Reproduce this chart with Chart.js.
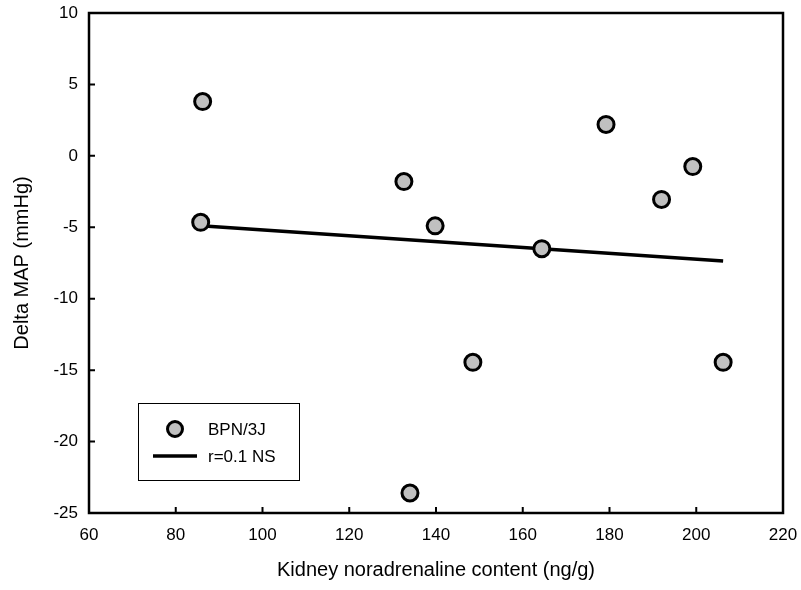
<!DOCTYPE html>
<html>
<head>
<meta charset="utf-8">
<script src="https://cdn.jsdelivr.net/npm/chart.js@4/dist/chart.umd.min.js"></script>
<style>
  body { margin: 0; background: #fff; }
</style>
</head>
<body>
<canvas id="scatterChart" width="801" height="590"></canvas>
<script>
// values
const kidneyNA = [86.2, 85.75, 132.6, 139.8, 134.0, 148.5, 164.4, 179.2, 192.0, 199.2, 206.2];
const deltaMAP = [3.8, -4.65, -1.8, -4.9, -23.6, -14.45, -6.5, 2.2, -3.05, -0.75, -14.45];

// regression line end points
const fitX = [85.75, 206.2];
const fitY = [-4.9, -7.36];

const xTicks = [60, 80, 100, 120, 140, 160, 180, 200, 220];
const yTicks = [-25, -20, -15, -10, -5, 0, 5, 10];

const FONT = '"Liberation Sans", Arial, sans-serif';

// frame, inward ticks and a boxed legend
const framePlugin = {
  id: 'frame',
  afterDraw(chart) {
    const ctx = chart.ctx;
    const area = chart.chartArea;
    const xs = chart.scales.x;
    const ys = chart.scales.y;

    ctx.save();
    ctx.strokeStyle = '#000';
    ctx.lineWidth = 2.5;
    ctx.strokeRect(area.left, area.top, area.right - area.left, area.bottom - area.top);

    ctx.lineWidth = 2;
    ctx.beginPath();
    xTicks.forEach(v => {
      const px = xs.getPixelForValue(v);
      ctx.moveTo(px, area.bottom);
      ctx.lineTo(px, area.bottom - 6);
    });
    yTicks.forEach(v => {
      const py = ys.getPixelForValue(v);
      ctx.moveTo(area.left, py);
      ctx.lineTo(area.left + 6, py);
    });
    ctx.stroke();

    // legend
    const pts = chart.data.datasets[0];
    const fit = chart.data.datasets[1];
    ctx.lineWidth = 1;
    ctx.strokeRect(138.5, 403.5, 161, 77);

    ctx.beginPath();
    ctx.arc(175, 429, 7.5, 0, Math.PI * 2);
    ctx.fillStyle = pts.backgroundColor;
    ctx.fill();
    ctx.lineWidth = 3;
    ctx.strokeStyle = pts.borderColor;
    ctx.stroke();

    ctx.beginPath();
    ctx.moveTo(153, 456);
    ctx.lineTo(197, 456);
    ctx.lineWidth = 3.5;
    ctx.strokeStyle = fit.borderColor;
    ctx.stroke();

    ctx.fillStyle = '#000';
    ctx.font = '17px ' + FONT;
    ctx.textBaseline = 'middle';
    ctx.fillText(pts.label, 208, 430);
    ctx.fillText(fit.label, 208, 457);
    ctx.restore();
  }
};

new Chart(document.getElementById('scatterChart').getContext('2d'), {
  type: 'scatter',
  data: {
    datasets: [
      {
        label: 'BPN/3J',
        data: kidneyNA.map((x, i) => ({ x: x, y: deltaMAP[i] })),
        pointRadius: 8,
        pointBorderWidth: 3,
        backgroundColor: '#c0c0c0',
        borderColor: '#000'
      },
      {
        label: 'r=0.1 NS',
        type: 'line',
        data: fitX.map((x, i) => ({ x: x, y: fitY[i] })),
        borderColor: '#000',
        borderWidth: 3.5,
        pointRadius: 0,
        fill: false
      }
    ]
  },
  options: {
    responsive: false,
    animation: false,
    layout: { padding: { top: 13, right: 18, bottom: 0, left: 0 } },
    plugins: {
      legend: { display: false },
      tooltip: { enabled: false }
    },
    scales: {
      x: {
        type: 'linear',
        min: 60,
        max: 220,
        afterBuildTicks: scale => { scale.ticks = xTicks.map(v => ({ value: v })); },
        afterFit: scale => { scale.height = 77; scale.paddingLeft = 0; scale.paddingRight = 0; },
        grid: { display: false, drawTicks: false },
        border: { display: false },
        ticks: { color: '#000', font: { family: FONT, size: 17 }, padding: 12 },
        title: {
          display: true,
          text: 'Kidney noradrenaline content (ng/g)',
          color: '#000',
          font: { family: FONT, size: 20 },
          padding: { top: 0, bottom: 8 }
        }
      },
      y: {
        type: 'linear',
        min: -25,
        max: 10,
        afterBuildTicks: scale => { scale.ticks = yTicks.map(v => ({ value: v })); },
        afterFit: scale => { scale.width = 89; scale.paddingTop = 0; scale.paddingBottom = 0; },
        grid: { display: false, drawTicks: false },
        border: { display: false },
        ticks: { color: '#000', font: { family: FONT, size: 17 }, padding: 11 },
        title: {
          display: true,
          text: 'Delta MAP (mmHg)',
          color: '#000',
          font: { family: FONT, size: 20 },
          padding: { top: 10, bottom: 0 }
        }
      }
    }
  },
  plugins: [framePlugin]
});
</script>
</body>
</html>
